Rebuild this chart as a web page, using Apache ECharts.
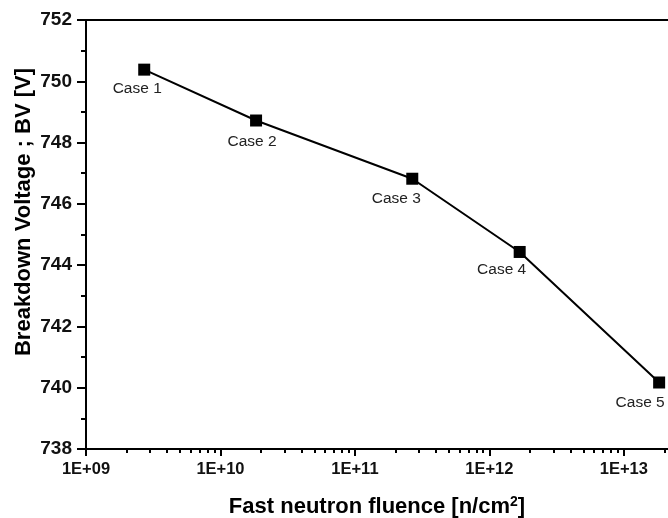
<!DOCTYPE html>
<html>
<head>
<meta charset="utf-8">
<script src="https://cdn.jsdelivr.net/npm/echarts@6/dist/echarts.min.js"></script>
<style>
  html, body { margin: 0; padding: 0; background: #fff; }
  #chart { width: 668px; height: 518px; }
</style>
</head>
<body>
<div id="chart"></div>
<script>
// ---- data ----
const fluence = [2.71e9, 1.84e10, 2.67e11, 1.68e12, 1.83e13];      // n/cm^2
const breakdownV = [750.38, 748.72, 746.82, 744.43, 740.17];        // V
const caseLabels = ['Case 1', 'Case 2', 'Case 3', 'Case 4', 'Case 5'];
const xTickLabels = ['1E+09', '1E+10', '1E+11', '1E+12', '1E+13'];
const yTickValues = [738, 740, 742, 744, 746, 748, 750, 752];

// ---- layout / style constants ----
const X_MIN = 1e9, X_MAX = 3e13;
const labelOffsets = [[-7, 19], [-4, 21], [-16, 20], [-18, 18], [-19, 20]];
const FONT = 'Arial, "Liberation Sans", Helvetica, sans-serif';

// minor tick positions (log10 space) for 2..9 within each decade
const minorTickPos = [];
for (let e = 9; e <= 13; e++) {
  for (let k = 2; k <= 9; k++) {
    const v = e + Math.log10(k);
    if (v < Math.log10(X_MAX)) minorTickPos.push(v);
  }
}

const seriesData = fluence.map((x, i) => ({
  value: [x, breakdownV[i]],
  label: {
    show: true,
    formatter: caseLabels[i],
    position: 'inside',
    offset: labelOffsets[i]
  }
}));

const chart = echarts.init(document.getElementById('chart'), null, { renderer: 'canvas' });
chart.setOption({
  animation: false,
  backgroundColor: '#ffffff',
  grid: {
    left: 86, top: 20, width: 602, bottom: 69,
    outerBoundsMode: 'none',
    containLabel: false,
    show: true, borderColor: '#000', borderWidth: 2, backgroundColor: 'transparent'
  },
  xAxis: [
    {
      type: 'log',
      logBase: 10,
      min: X_MIN,
      max: X_MAX,
      position: 'bottom',
      axisLine: { show: true, lineStyle: { color: '#000', width: 2 } },
      axisTick: { show: true, inside: false, length: 7, lineStyle: { color: '#000', width: 2 } },
      minorTick: { show: false },
      splitLine: { show: false },
      axisLabel: {
        show: true,
        margin: 12,
        color: '#111',
        fontFamily: FONT,
        fontWeight: 'bold',
        fontSize: 16.5,
        showMaxLabel: false,
        formatter: function (v) {
          const e = Math.log10(v);
          if (Math.abs(e - Math.round(e)) > 1e-6) return '';
          const idx = Math.round(e) - 9;
          return xTickLabels[idx] || '';
        }
      }
    },
    {
      type: 'value',
      min: Math.log10(X_MIN),
      max: Math.log10(X_MAX),
      position: 'bottom',
      gridIndex: 0,
      axisLine: { show: false },
      axisLabel: { show: false },
      splitLine: { show: false },
      axisTick: {
        show: true,
        inside: false,
        length: 4,
        customValues: minorTickPos,
        lineStyle: { color: '#000', width: 2 }
      }
    }
  ],
  yAxis: {
    type: 'value',
    min: 738,
    max: 752,
    interval: 2,
    axisLine: { show: true, lineStyle: { color: '#000', width: 2 } },
    axisTick: { show: true, inside: false, length: 9, lineStyle: { color: '#000', width: 2 } },
    minorTick: { show: true, splitNumber: 2, length: 5, lineStyle: { color: '#000', width: 2 } },
    splitLine: { show: false },
    minorSplitLine: { show: false },
    axisLabel: {
      margin: 14,
      color: '#111',
      fontFamily: FONT,
      fontWeight: 'bold',
      fontSize: 19,
      formatter: function (v) { return yTickValues.indexOf(v) >= 0 ? String(v) : ''; }
    }
  },
  series: [{
    type: 'line',
    xAxisIndex: 0,
    data: seriesData,
    symbol: 'rect',
    symbolSize: 12,
    itemStyle: { color: '#000' },
    lineStyle: { color: '#000', width: 2 },
    label: {
      color: '#222',
      fontFamily: FONT,
      fontSize: 15.5,
      align: 'center',
      verticalAlign: 'middle'
    },
    emphasis: { disabled: true }
  }],
  graphic: [
    {
      type: 'text',
      x: 377, y: 507,
      style: {
        text: 'Fast neutron fluence [n/cm{sup|2}]',
        font: 'bold 22px ' + FONT,
        fill: '#000',
        align: 'center',
        verticalAlign: 'middle',
        rich: {
          sup: { font: 'bold 14px ' + FONT, fill: '#000', verticalAlign: 'top', padding: [0, 0, 10, 0] }
        }
      }
    },
    {
      type: 'text',
      x: 24, y: 212,
      rotation: Math.PI / 2,
      style: {
        text: 'Breakdown Voltage ; BV [V]',
        font: 'bold 22px ' + FONT,
        fill: '#000',
        align: 'center',
        verticalAlign: 'middle'
      }
    }
  ]
});
</script>
</body>
</html>
